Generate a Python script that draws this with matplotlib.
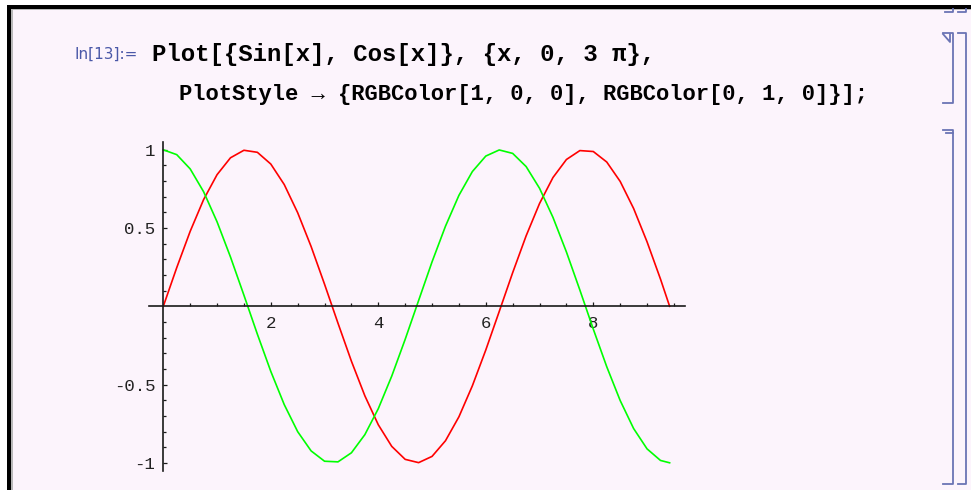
import matplotlib
matplotlib.use("Agg")
import matplotlib.pyplot as plt
from matplotlib.patches import Rectangle

# sampled values of the two curves, x from 0 to 3 pi
x_vals = [0.0, 0.25, 0.5, 0.75, 1.0, 1.25, 1.5, 1.75, 2.0, 2.25, 2.5, 2.75,
          3.0, 3.25, 3.5, 3.75, 4.0, 4.25, 4.5, 4.75, 5.0, 5.25, 5.5, 5.75,
          6.0, 6.25, 6.5, 6.75, 7.0, 7.25, 7.5, 7.75, 8.0, 8.25, 8.5, 8.75,
          9.0, 9.25, 9.42]
sin_vals = [0.0, 0.247, 0.479, 0.682, 0.841, 0.949, 0.997, 0.984, 0.909,
            0.778, 0.598, 0.382, 0.141, -0.108, -0.351, -0.572, -0.757,
            -0.895, -0.978, -0.999, -0.959, -0.859, -0.706, -0.508, -0.279,
            -0.033, 0.215, 0.450, 0.657, 0.823, 0.938, 0.995, 0.989, 0.922,
            0.798, 0.625, 0.412, 0.174, 0.0]
cos_vals = [1.0, 0.969, 0.878, 0.732, 0.540, 0.315, 0.071, -0.178, -0.416,
            -0.628, -0.801, -0.924, -0.990, -0.994, -0.936, -0.820, -0.654,
            -0.446, -0.211, 0.037, 0.284, 0.512, 0.709, 0.861, 0.960, 0.999,
            0.977, 0.893, 0.754, 0.568, 0.347, 0.104, -0.146, -0.386, -0.602,
            -0.781, -0.911, -0.985, -1.0]

x_major = [2, 4, 6, 8]
x_minor = [0.5, 1, 1.5, 2.5, 3, 3.5, 4.5, 5, 5.5, 6.5, 7, 7.5, 8.5, 9, 9.5]
y_major = [-1, -0.5, 0.5, 1]
y_major_labels = ["-1", "-0.5", "0.5", "1"]
y_minor = [-0.9, -0.8, -0.7, -0.6, -0.4, -0.3, -0.2, -0.1,
           0.1, 0.2, 0.3, 0.4, 0.6, 0.7, 0.8, 0.9]

input_label = "In[13]:="
code_line1 = "Plot[{Sin[x], Cos[x]}, {x, 0, 3 \u03c0},"
code_line2 = "PlotStyle \u2192 {RGBColor[1, 0, 0], RGBColor[0, 1, 0]}];"

W, H = 971, 490
bg = "#fcf4fc"
bracket = "#6a74b4"
mono = ["Liberation Mono", "DejaVu Sans Mono"]

fig = plt.figure(figsize=(W / 100, H / 100), dpi=100)
fig.patch.set_facecolor("white")

# notebook frame, drawn in pixel space
frame = fig.add_axes([0, 0, 1, 1])
frame.set_xlim(0, W)
frame.set_ylim(H, 0)
frame.axis("off")
frame.add_patch(Rectangle((11, 9), W - 11, H - 9, color=bg, lw=0))
frame.add_patch(Rectangle((7, 5), W - 7, 4, color="black", lw=0))
frame.add_patch(Rectangle((7, 5), 4, H - 5, color="black", lw=0))
frame.add_patch(Rectangle((11, 9), 2, H - 9, color="#b8b8b8", lw=0))
frame.add_patch(Rectangle((11, 9), W - 11, 1.2, color="#b8b8b8", lw=0))

blw = 1.3
# ends of the previous cell's brackets
frame.plot([945, 953, 953], [12, 12, 9], color=bracket, lw=blw)
frame.plot([958, 966, 966], [12, 12, 9], color=bracket, lw=blw)
# cell bracket
frame.plot([958, 966, 966, 958], [33, 33, 484, 484], color=bracket, lw=blw)
# input bracket with its small triangle
frame.plot([943, 953, 953, 943], [33, 33, 103, 103], color=bracket, lw=blw)
frame.plot([943, 950, 950], [34, 42, 34], color=bracket, lw=blw)
# output bracket
frame.plot([943, 953, 953, 943], [130, 130, 484, 484], color=bracket, lw=blw)
frame.plot([946, 953], [133.5, 133.5], color=bracket, lw=blw)

frame.text(75, 59, input_label, color="#4a58a8", fontsize=11,
           family=["Liberation Sans Narrow", "DejaVu Sans"], va="baseline")
frame.text(152, 60.5, code_line1, fontsize=17.3, fontweight="bold",
           family=mono, va="baseline")
frame.text(179, 100, code_line2, fontsize=15.9, fontweight="bold",
           family=mono, va="baseline")

# the plot itself: one data unit in x is 53.75 px, in y 156.5 px
x0, xs = 163.3, 53.75
y0, ys = 306.3, 156.5
ax = fig.add_axes([0, 0, 1, 1])
ax.patch.set_alpha(0)
ax.set_xlim(-x0 / xs, (W - x0) / xs)
ax.set_ylim((y0 - H) / ys, y0 / ys)

ax.plot(x_vals, sin_vals, color="#ff0000", lw=1.2, solid_joinstyle="round")
ax.plot(x_vals, cos_vals, color="#00ff00", lw=1.2, solid_joinstyle="round")

for side in ["top", "right"]:
    ax.spines[side].set_visible(False)
ax.spines["left"].set_position(("data", 0))
ax.spines["bottom"].set_position(("data", 0))
ax.spines["bottom"].set_bounds(-0.27, 9.71)
ax.spines["left"].set_bounds(-1.053, 1.05)
for side in ["left", "bottom"]:
    ax.spines[side].set_linewidth(1.2)
    ax.spines[side].set_color("#1a1a1a")

ax.set_xticks(x_major)
ax.set_xticklabels([str(v) for v in x_major])
ax.set_xticks(x_minor, minor=True)
ax.set_yticks(y_major)
ax.set_yticklabels(y_major_labels)
ax.set_yticks(y_minor, minor=True)
ax.tick_params(which="both", direction="in", color="#1a1a1a", width=0.9)
ax.tick_params(which="major", length=3.2)
ax.tick_params(which="minor", length=2.0)
ax.tick_params(axis="x", which="major", pad=7)
ax.tick_params(axis="y", which="major", pad=5.8)
for lab in ax.get_xticklabels() + ax.get_yticklabels():
    lab.set_family(mono)
    lab.set_fontsize(12.5)
    lab.set_color("#222222")

fig.savefig("out.png", dpi=100, facecolor=fig.get_facecolor())
